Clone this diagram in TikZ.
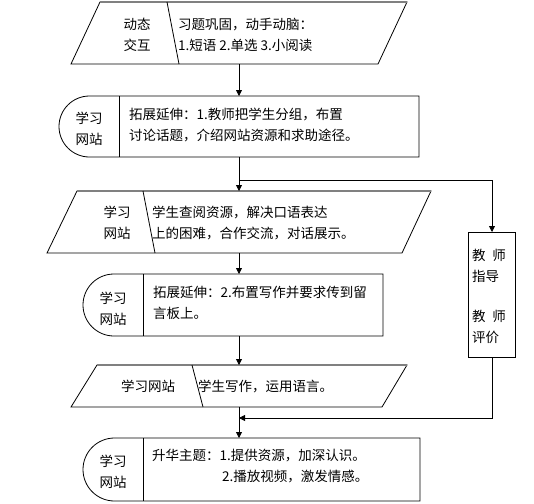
\documentclass[tikz,border=0pt]{standalone}
\usepackage{fontspec}
\setmainfont{Noto Sans CJK SC}
\usetikzlibrary{arrows.meta}
\begin{document}
\begin{tikzpicture}[x=1pt,y=-1pt,
  shp/.style={draw=black,line width=0.8pt,fill=white},
  topedge/.style={draw=gray,line width=1.6pt},
  conn/.style={draw=black,line width=0.8pt},
  arr/.style={conn,-{Triangle[length=6pt,width=6pt]}},
  txt/.style={font=\fontsize{13.5}{21}\selectfont,inner sep=0pt,align=left,anchor=west},
  lbl/.style={font=\fontsize{13.5}{21}\selectfont,inner sep=0pt,align=center}]
\useasboundingbox[fill=white] (0,0) rectangle (534,503);

% Box 1 (parallelogram)
\path[shp] (100,2) -- (407,2) -- (378,64) -- (71,64) -- cycle;
\draw[topedge] (100,2) -- (407,2);
\draw[conn] (167,2) -- (179,64);
\node[lbl] (l1) at (137,35) {动态\\交互};
\node[txt] (t1) at (178,35) {习题巩固，动手动脑：\\1.短语 2.单选 3.小阅读};
\coordinate (b1s) at (239,64);

% Box 2 (rounded left)
\path[shp] (419,96) -- (89.5,96) arc[start angle=90,end angle=270,radius=30.5pt] -- (419,157) -- cycle;
\draw[conn] (119,96) -- (119,157);
\node[lbl] (l2) at (89,129) {学习\\网站};
\node[txt] (t2) at (129,125) {拓展延伸：1.教师把学生分组，布置\\讨论话题，介绍网站资源和求助途径。};
\coordinate (b2n) at (239,96);
\coordinate (b2s) at (239,157);

% Box 3 (parallelogram)
\path[shp] (77,191) -- (431,191) -- (402,253) -- (47,253) -- cycle;
\draw[topedge] (77,191) -- (431,191);
\draw[conn] (143,191) -- (155,253);
\node[lbl] (l3) at (117,223) {学习\\网站};
\node[txt] (t3) at (152,223) {学生查阅资源，解决口语表达\\上的困难，合作交流，对话展示。};
\coordinate (b3n) at (239,191);
\coordinate (b3s) at (239,253);

% Box 4 (rounded left)
\path[shp] (383,274) -- (114,274) arc[start angle=90,end angle=270,radius=31pt] -- (383,336) -- cycle;
\draw[conn] (143,274) -- (143,336);
\node[lbl] (l4) at (113,309) {学习\\网站};
\node[txt] (t4) at (153,303) {拓展延伸：2.布置写作并要求传到留\\言板上。};
\coordinate (b4n) at (239,274);
\coordinate (b4s) at (239,336);

% Box 5 (parallelogram)
\path[shp] (97,365) -- (407,365) -- (382,407) -- (71,407) -- cycle;
\draw[topedge] (97,365) -- (407,365);
\draw[conn] (192,365) -- (203,407);
\node[lbl] (l5) at (148,386) {学习网站};
\node[txt] (t5) at (198,386) {学生写作，运用语言。};
\coordinate (b5n) at (239,365);
\coordinate (b5s) at (239,407);

% Box 6 (rounded left)
\path[shp] (420,438) -- (114.5,438) arc[start angle=90,end angle=270,radius=31.5pt] -- (420,501) -- cycle;
\draw[conn] (143,438) -- (143,501);
\node[lbl] (l6) at (113,472) {学习\\网站};
\node[txt] (t6a) at (152,456) {升华主题：1.提供资源，加深认识。};
\node[txt] (t6b) at (222,477) {2.播放视频，激发情感。};
\coordinate (b6n) at (239,438);

% Side box
\path[shp] (468,232) rectangle (515,357);
\node[txt,align=left] (side) at (472,296) {教\hspace{0.5em}师\\指导\\[19pt]教\hspace{0.5em}师\\评价};
\coordinate (sn) at (492,232);
\coordinate (ss) at (492,357);

% Connectors
\coordinate (br) at (239,180);
\coordinate (brr) at (492,180);
\coordinate (rt) at (492,418);
\coordinate (rj) at (239,418);
\draw[arr] (b1s) -- (b2n);
\draw[arr] (b2s) -- (b3n);
\draw[arr] (br) -- (brr) -- (sn);
\draw[arr] (b3s) -- (b4n);
\draw[arr] (b4s) -- (b5n);
\draw[arr] (ss) -- (rt) -- (rj);
\draw[arr] (b5s) -- (b6n);
\end{tikzpicture}
\end{document}
